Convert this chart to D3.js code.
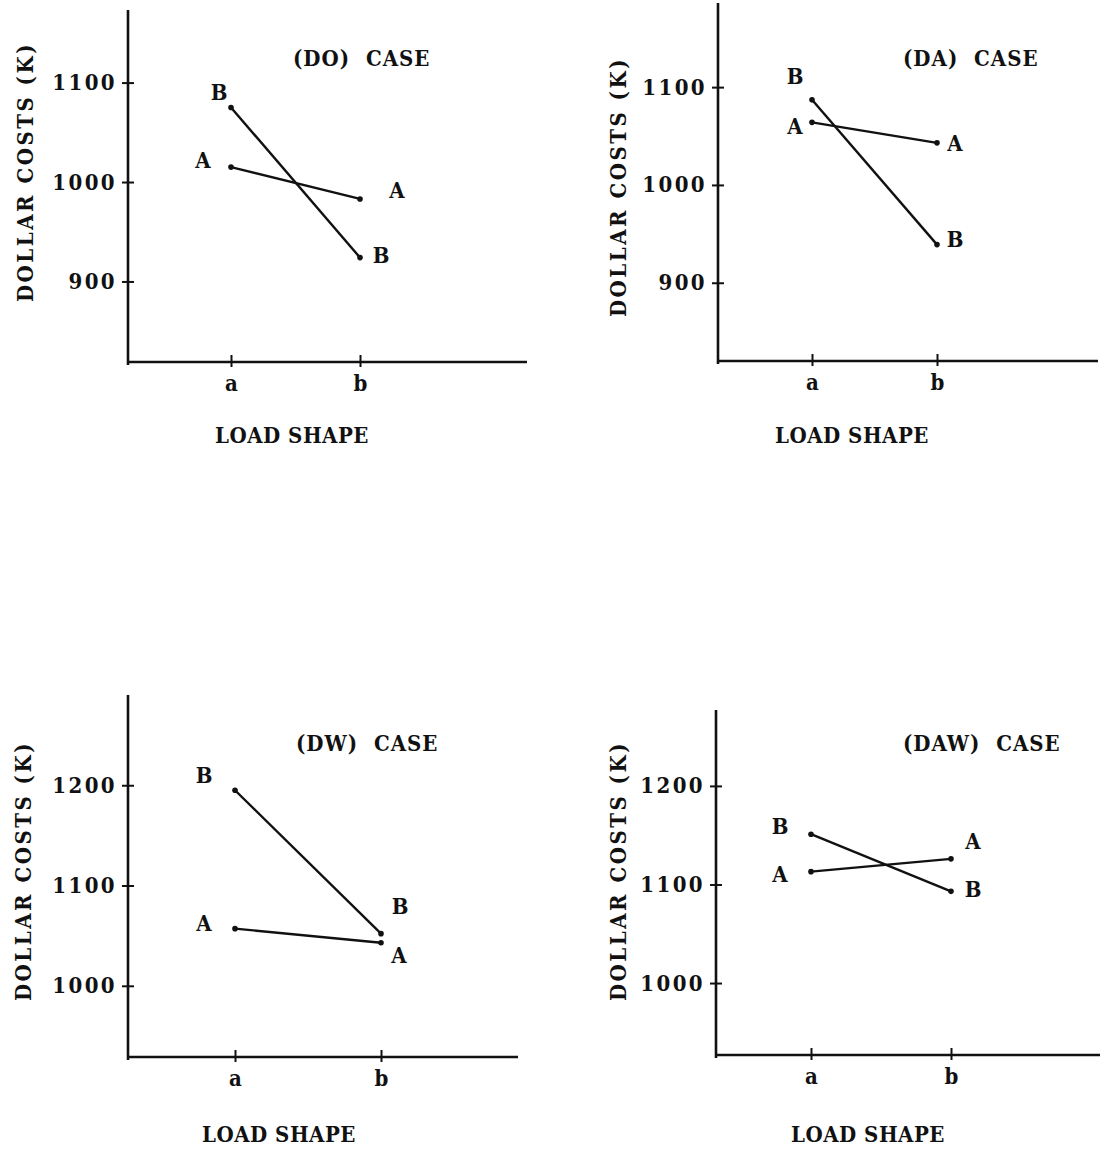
<!DOCTYPE html>
<html>
<head>
<meta charset="utf-8">
<script src="https://cdn.jsdelivr.net/npm/d3@7"></script>
<style>
    body { margin: 0; background: #fff; }
    svg text { font-family: "DejaVu Serif Condensed", "DejaVu Serif", serif; font-weight: bold; fill: #111; }
</style>
</head>
<body>
<svg id="chart" width="1105" height="1151"></svg>
<script>
// Data
const categories = ['a', 'b'];
const panelTitles = ['(DO)  CASE', '(DA)  CASE', '(DW)  CASE', '(DAW)  CASE'];
const seriesNames = ['A', 'B'];
const seriesA = [[1015, 983], [1064, 1043], [1057, 1043], [1113, 1126]];
const seriesB = [[1075, 924], [1087, 939], [1195, 1052], [1151, 1093]];
const yTicks = [[900, 1000, 1100], [900, 1000, 1100], [1000, 1100, 1200], [1000, 1100, 1200]];
const yDomains = [[819, 1173], [820, 1186], [929, 1290], [927, 1277]];
const yTitle = 'DOLLAR COSTS (K)';
const xTitle = 'LOAD SHAPE';

// Panel placement (axis origin, tick spots, text spots) and label nudges
const layout = [
    { ox: 128, oy: 362, top: 10, xa: 231, xb: 360, xEnd: 527, titleX: 293, titleY: 58,
      yTitleX: 25, yTitleY: 172, xTitleX: 292, xTitleY: 435,
      nudge: { A: [[-28, -7], [37, -9]], B: [[-12, -15], [21, -3]] } },
    { ox: 718, oy: 361, top: 3, xa: 812, xb: 937, xEnd: 1098, titleX: 903, titleY: 58,
      yTitleX: 618, yTitleY: 187, xTitleX: 852, xTitleY: 435,
      nudge: { A: [[-17, 4], [18, 0]], B: [[-17, -24], [18, -6]] } },
    { ox: 128, oy: 1057, top: 695, xa: 235, xb: 381, xEnd: 518, titleX: 296, titleY: 743,
      yTitleX: 23, yTitleY: 871, xTitleX: 279, xTitleY: 1134,
      nudge: { A: [[-31, -6], [18, 12]], B: [[-31, -15], [19, -28]] } },
    { ox: 716, oy: 1055, top: 710, xa: 811, xb: 951, xEnd: 1100, titleX: 903, titleY: 743,
      yTitleX: 618, yTitleY: 871, xTitleX: 868, xTitleY: 1134,
      nudge: { A: [[-31, 2], [22, -18]], B: [[-31, -8], [22, -2]] } }
];

const svg = d3.select('#chart');
const fontSize = 22;
const ink = '#111';

layout.forEach((p, i) => {
    const g = svg.append('g');

    // Scales
    const x = d3.scalePoint().domain(categories).range([p.xa, p.xb]);
    const y = d3.scaleLinear().domain(yDomains[i]).range([p.oy, p.top]);

    // Y axis
    const yAxis = g.append('g')
        .attr('transform', `translate(${p.ox},0)`)
        .call(d3.axisLeft(y).tickValues(yTicks[i]).tickFormat(d3.format('d'))
            .tickSizeInner(6).tickSizeOuter(0).tickPadding(5));
    yAxis.select('.domain').attr('stroke', ink).attr('stroke-width', 2.6)
        .attr('d', `M0,${p.top}V${p.oy + 3}`);
    yAxis.selectAll('.tick line').attr('stroke', ink).attr('stroke-width', 2).attr('x1', 6);
    yAxis.selectAll('.tick text')
        .attr('font-family', null)
        .attr('font-size', fontSize)
        .attr('letter-spacing', 2.4)
        .attr('fill', ink);

    // X axis
    g.append('line')
        .attr('x1', p.ox).attr('x2', p.xEnd)
        .attr('y1', p.oy).attr('y2', p.oy)
        .attr('stroke', ink).attr('stroke-width', 2.6);
    const xAxis = g.append('g')
        .attr('transform', `translate(0,${p.oy})`)
        .call(d3.axisBottom(x).tickSizeInner(6).tickSizeOuter(0).tickPadding(7));
    xAxis.select('.domain').remove();
    xAxis.selectAll('.tick line').attr('stroke', ink).attr('stroke-width', 2).attr('y1', -7).attr('y2', 5);
    xAxis.selectAll('.tick text')
        .attr('font-family', null)
        .attr('font-size', fontSize)
        .attr('fill', ink);

    // Lines with end markers
    const series = [seriesA[i], seriesB[i]];
    const line = d3.line().x((d, k) => x(categories[k])).y(d => y(d));
    series.forEach((vals, s) => {
        g.append('path')
            .attr('d', line(vals))
            .attr('fill', 'none')
            .attr('stroke', ink)
            .attr('stroke-width', 2.4);
        g.selectAll(null).data(vals).enter().append('circle')
            .attr('cx', (d, k) => x(categories[k]))
            .attr('cy', d => y(d))
            .attr('r', 2.8)
            .attr('fill', ink);
        // Series letters beside each end
        const name = seriesNames[s];
        g.selectAll(null).data(vals).enter().append('text')
            .attr('x', (d, k) => x(categories[k]) + p.nudge[name][k][0])
            .attr('y', (d, k) => y(d) + p.nudge[name][k][1])
            .attr('dy', '0.36em')
            .attr('text-anchor', 'middle')
            .attr('font-size', fontSize)
            .text(name);
    });

    // Titles
    g.append('text')
        .attr('x', p.titleX).attr('y', p.titleY).attr('dy', '0.36em')
        .attr('font-size', fontSize).attr('letter-spacing', 1)
        .style('white-space', 'pre')
        .text(panelTitles[i]);
    g.append('text')
        .attr('transform', `translate(${p.yTitleX},${p.yTitleY}) rotate(-90)`)
        .attr('text-anchor', 'middle').attr('dy', '0.36em')
        .attr('font-size', fontSize).attr('letter-spacing', 2.5)
        .text(yTitle);
    g.append('text')
        .attr('x', p.xTitleX).attr('y', p.xTitleY).attr('dy', '0.36em')
        .attr('text-anchor', 'middle')
        .attr('font-size', fontSize).attr('letter-spacing', 0.5)
        .text(xTitle);
});
</script>
</body>
</html>
